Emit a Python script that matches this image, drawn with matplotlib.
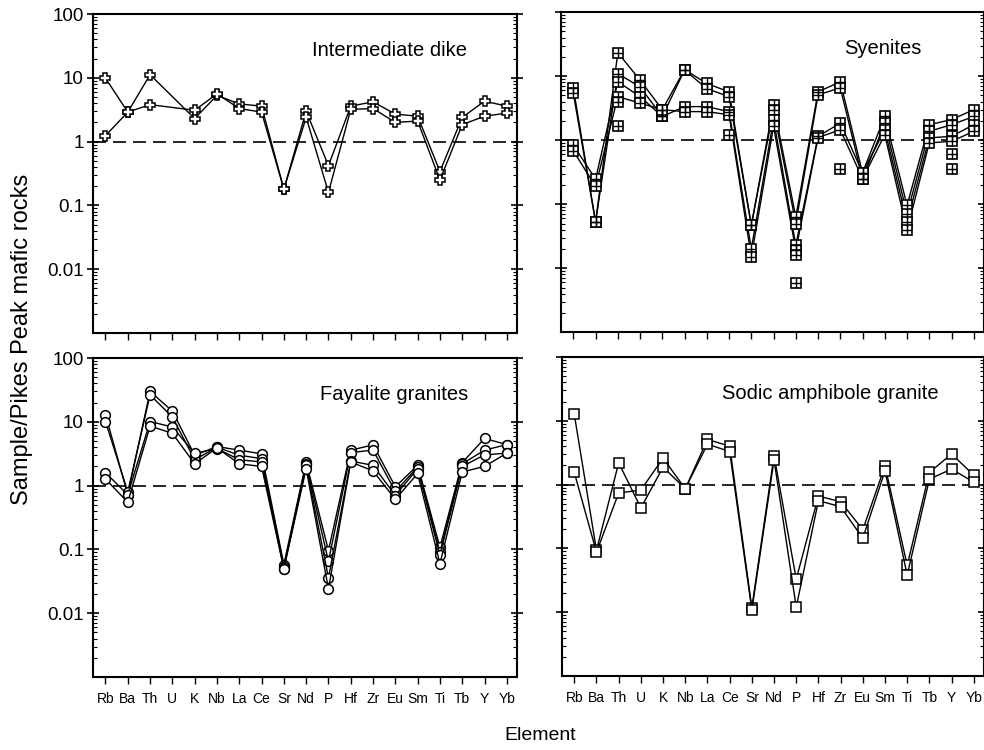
import numpy as np
import matplotlib
matplotlib.use('Agg')
from matplotlib import pyplot as plt

plt.rcParams['font.family'] = ['Liberation Sans', 'DejaVu Sans']

elements = ['Rb', 'Ba', 'Th', 'U', 'K', 'Nb', 'La', 'Ce', 'Sr', 'Nd',
            'P', 'Hf', 'Zr', 'Eu', 'Sm', 'Ti', 'Tb', 'Y', 'Yb']
nan = np.nan

# Intermediate dike (U not analysed)
dike_1 = [9.9, 2.9, 11.2, nan, 2.3, 5.3, 3.9, 3.6, 0.18, 3.0,
          0.42, 3.6, 4.2, 2.7, 2.5, 0.34, 2.4, 4.3, 3.6]
dike_2 = [1.24, 2.9, 3.8, nan, 3.1, 5.6, 3.3, 2.9, 0.18, 2.4,
          0.16, 3.2, 3.3, 2.0, 2.1, 0.25, 1.85, 2.5, 2.8]

# Syenites
sye_1 = [6.5, 0.053, 23.3, 8.7, 3.0, 12.7, 7.7, 5.7, 0.047, 3.55,
         0.063, 5.7, 8.2, 0.31, 2.35, 0.096, 1.75, 2.1, 3.0]
sye_2 = [5.4, 0.053, 11.0, 6.8, 2.35, 12.5, 6.4, 4.8, 0.047, 3.0,
         0.05, 5.1, 6.6, 0.25, 1.85, 0.071, 1.38, 1.75, 2.35]
sye_3 = [0.84, 0.246, 8.2, 4.8, 2.35, 3.35, 3.35, 2.8, 0.02, 2.1,
         0.023, 1.15, 1.85, 0.31, 1.46, 0.053, 1.09, 1.15, 1.75]
sye_4 = [0.68, 0.19, 4.8, 3.8, 3.0, 2.8, 2.8, 2.5, 0.015, 1.65,
         0.019, 1.1, 1.46, 0.25, 1.22, 0.039, 0.91, 0.96, 1.38]
# partial analyses, plotted without lines
sye_5 = [nan, nan, 4.0, nan, nan, nan, nan, 1.2, nan, nan,
         0.016, nan, 0.35, nan, nan, nan, nan, 0.62, nan]
sye_6 = [nan, nan, 1.65, nan, nan, nan, nan, nan, nan, nan,
         0.0058, nan, nan, nan, nan, nan, nan, 0.35, nan]

# Fayalite granites
fay_1 = [13.0, 0.72, 30.0, 14.7, 3.0, 4.1, 3.6, 3.15, 0.058, 2.35,
         0.096, 3.6, 4.35, 0.96, 2.08, 0.108, 2.3, 5.5, 4.4]
fay_2 = [10.1, 0.8, 26.5, 11.9, 2.55, 4.0, 3.0, 2.65, 0.054, 2.2,
         0.065, 3.3, 3.6, 0.81, 1.95, 0.09, 2.2, 3.6, 4.4]
fay_3 = [1.6, 0.72, 10.1, 8.3, 3.2, 3.8, 2.55, 2.35, 0.05, 2.08,
         0.036, 2.43, 2.08, 0.7, 1.85, 0.082, 2.0, 3.04, 3.23]
fay_4 = [1.27, 0.55, 8.6, 6.6, 2.2, 3.9, 2.2, 2.0, 0.05, 1.85,
         0.024, 2.35, 1.7, 0.61, 1.55, 0.06, 1.64, 2.0, 3.23]

# Sodic amphibole granite
sod_1 = [12.6, 0.093, 2.2, 0.43, 1.88, 0.86, 5.1, 4.0, 0.0118, 2.85,
         0.033, 0.66, 0.54, 0.196, 1.97, 0.054, 1.55, 3.02, 1.4]
sod_2 = [1.55, 0.087, 0.74, 0.82, 2.6, 0.86, 4.3, 3.3, 0.0108, 2.44,
         0.012, 0.56, 0.45, 0.144, 1.65, 0.038, 1.22, 1.75, 1.09]

x = np.arange(1, len(elements) + 1)

fig = plt.figure(figsize=(9.84, 7.5), dpi=100)
ax_tl = fig.add_axes([0.0945, 0.556, 0.431, 0.4253])
ax_tr = fig.add_axes([0.570, 0.557, 0.430, 0.4267])
ax_bl = fig.add_axes([0.0945, 0.0973, 0.431, 0.4253])
ax_br = fig.add_axes([0.571, 0.0987, 0.429, 0.4253])


def grid_marks(ax, xs, ys, ms):
    # square with a cross inside, like the original symbol
    ax.plot(xs, ys, 's', ms=ms, mfc='white', mec='k', mew=1.2, zorder=3)
    ax.plot(xs, ys, '+', ms=ms, mec='k', mew=1.0, zorder=4)


def draw(ax, series, marker, ms):
    for s in series:
        y = np.array(s, dtype=float)
        m = np.isfinite(y)
        if marker == 'grid':
            ax.plot(x[m], y[m], '-', color='k', lw=1.0, zorder=2)
            grid_marks(ax, x[m], y[m], ms)
        else:
            ax.plot(x[m], y[m], '-', marker=marker, ms=ms, color='k', lw=1.0,
                    mfc='white', mec='k', mew=1.1, zorder=3)


draw(ax_tl, [dike_1, dike_2], 'P', 7.5)
draw(ax_tr, [sye_1, sye_2, sye_3, sye_4], 'grid', 6.5)
for s in [sye_5, sye_6]:
    y = np.array(s, dtype=float)
    m = np.isfinite(y)
    grid_marks(ax_tr, x[m], y[m], 6.5)
draw(ax_bl, [fay_1, fay_2, fay_3, fay_4], 'o', 7)
draw(ax_br, [sod_1, sod_2], 's', 7)

titles = ['Intermediate dike', 'Syenites', 'Fayalite granites', 'Sodic amphibole granite']
title_x = [0.70, 0.761, 0.71, 0.637]
for ax, t, tx in zip([ax_tl, ax_tr, ax_bl, ax_br], titles, title_x):
    ax.set_yscale('log')
    ax.set_ylim(0.001, 100)
    ax.set_xlim(0.44, 19.46)
    ax.axhline(1, color='k', lw=1.2, ls=(0, (7.8, 4.2)), zorder=1)
    ax.set_xticks(x)
    ax.set_xticklabels(elements, fontsize=10)
    ax.set_yticks([0.01, 0.1, 1, 10, 100])
    ax.set_yticklabels(['0.01', '0.1', '1', '10', '100'], fontsize=13.5)
    ax.tick_params(axis='x', direction='out', length=5, width=1, top=False, pad=6)
    ax.tick_params(axis='y', which='major', direction='inout', length=9, width=1.2,
                   left=True, right=True, pad=2)
    ax.tick_params(axis='y', which='minor', direction='in', length=3, width=0.8,
                   left=True, right=True)
    for sp in ax.spines.values():
        sp.set_linewidth(1.5)
    ax.text(tx, 0.887, t, transform=ax.transAxes, ha='center', va='center', fontsize=14.5)

for ax in [ax_tl, ax_tr]:
    ax.tick_params(axis='x', labelbottom=False)
for ax in [ax_tr, ax_br]:
    ax.tick_params(axis='y', labelleft=False)

fig.text(0.549, 0.02, 'Element', ha='center', va='center', fontsize=14)
fig.text(0.022, 0.547, 'Sample/Pikes Peak mafic rocks', ha='center', va='center',
         rotation=90, fontsize=17)

fig.savefig('out.png', dpi=100)
